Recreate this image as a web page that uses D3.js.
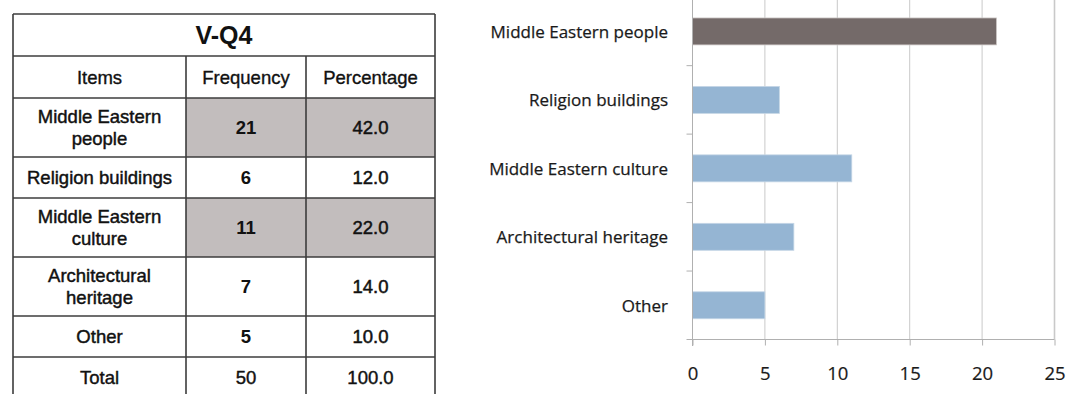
<!DOCTYPE html>
<html>
<head>
<meta charset="utf-8">
<script src="https://cdn.jsdelivr.net/npm/d3@7"></script>
<style>
  html, body { margin: 0; padding: 0; background: #fff; }
  svg { display: block; }
</style>
</head>
<body>
<svg id="chart" width="1068" height="394"></svg>
<script>
// ---- Data ----
const tableTitle = "V-Q4";
const tableHeaders = ["Items", "Frequency", "Percentage"];
const items = ["Middle Eastern people", "Religion buildings", "Middle Eastern culture", "Architectural heritage", "Other"];
const itemLines = [["Middle Eastern", "people"], ["Religion buildings"], ["Middle Eastern", "culture"], ["Architectural", "heritage"], ["Other"]];
const frequency = [21, 6, 11, 7, 5];
const percentage = ["42.0", "12.0", "22.0", "14.0", "10.0"];
const tableHighlighted = [true, false, true, false, false];
const barHighlighted = [true, false, false, false, false];
const totalRow = ["Total", "50", "100.0"];
const xTicks = [0, 5, 10, 15, 20, 25];

// ---- Layout ----
const svg = d3.select("#chart");

// Table
const colEdges = [13, 186, 306, 435];
const rowEdges = [14, 56, 98, 157, 198, 257, 316, 357, 400];
const border = "#3c3c3c";
const tableFont = "'Liberation Sans', Arial, sans-serif";
const tg = svg.append("g");

const bodyRows = items.map((d, i) => ({ i, y0: rowEdges[i + 2], y1: rowEdges[i + 3] }));
bodyRows.filter(r => tableHighlighted[r.i]).forEach(r => {
  tg.append("rect").attr("x", colEdges[1]).attr("y", r.y0)
    .attr("width", colEdges[3] - colEdges[1]).attr("height", r.y1 - r.y0)
    .attr("fill", "#c2bdbd");
});

rowEdges.slice(0, -1).forEach(yy => {
  tg.append("line").attr("x1", colEdges[0]).attr("x2", colEdges[3])
    .attr("y1", yy).attr("y2", yy).attr("stroke", border).attr("stroke-width", 1.6);
});
tg.append("line").attr("x1", colEdges[0]).attr("x2", colEdges[0]).attr("y1", rowEdges[0]).attr("y2", 400).attr("stroke", border).attr("stroke-width", 1.6);
tg.append("line").attr("x1", colEdges[3]).attr("x2", colEdges[3]).attr("y1", rowEdges[0]).attr("y2", 400).attr("stroke", border).attr("stroke-width", 1.6);
[colEdges[1], colEdges[2]].forEach(xx => {
  tg.append("line").attr("x1", xx).attr("x2", xx).attr("y1", rowEdges[1]).attr("y2", 400).attr("stroke", border).attr("stroke-width", 1.6);
});

function cellText(lines, col, y0, y1, opts) {
  const cx = (colEdges[col] + colEdges[col + 1]) / 2;
  const cy = (y0 + y1) / 2;
  const lh = 22;
  const n = lines.length;
  lines.forEach((ln, k) => {
    tg.append("text")
      .attr("x", cx)
      .attr("y", cy + (k - (n - 1) / 2) * lh + opts.size * 0.36)
      .attr("text-anchor", "middle")
      .attr("font-family", tableFont)
      .attr("font-size", opts.size)
      .attr("font-weight", opts.weight || "normal")
      .attr("fill", "#111")
      .attr("stroke", "#111")
      .attr("stroke-width", opts.sw || 0)
      .text(ln);
  });
}

tg.append("text")
  .attr("x", (colEdges[0] + colEdges[3]) / 2)
  .attr("y", (rowEdges[0] + rowEdges[1]) / 2 + 9)
  .attr("text-anchor", "middle")
  .attr("font-family", tableFont)
  .attr("font-size", 25)
  .attr("font-weight", "bold")
  .attr("fill", "#111")
  .text(tableTitle);

tableHeaders.forEach((h, c) => cellText([h], c, rowEdges[1], rowEdges[2], { size: 18.5, sw: 0.35 }));
bodyRows.forEach(r => {
  cellText(itemLines[r.i], 0, r.y0, r.y1, { size: 18.5, sw: 0.45 });
  cellText([String(frequency[r.i])], 1, r.y0, r.y1, { size: 18.5, weight: "bold" });
  cellText([percentage[r.i]], 2, r.y0, r.y1, { size: 18.5, sw: 0.5 });
});
totalRow.forEach((t, c) => cellText([t], c, rowEdges[7], 398, { size: 18.5, sw: 0.4 }));

// ---- Bar chart ----
const x = d3.scaleLinear().domain([0, 25]).range([692.5, 1054.5]);
const y = d3.scaleBand().domain(items).range([-2.8, 339.5]).paddingInner(0.606).paddingOuter(0.303);
const yBounds = d3.scaleBand().domain(items).range([-2.8, 339.5]);
const cg = svg.append("g");
const labelFont = "'Open Sans', 'Noto Sans', sans-serif";

cg.selectAll(".grid").data(xTicks).join("line")
  .attr("x1", d => x(d)).attr("x2", d => x(d))
  .attr("y1", 0).attr("y2", 339.5)
  .attr("stroke", d => d === 0 ? "#b5b5b5" : "#c9c9c9").attr("stroke-width", d => d === 25 ? 1.6 : 1);

cg.selectAll(".bar").data(items).join("rect")
  .attr("x", x(0))
  .attr("y", d => y(d))
  .attr("width", (d, i) => x(frequency[i]) - x(0))
  .attr("height", y.bandwidth())
  .attr("fill", (d, i) => barHighlighted[i] ? "#746a69" : "#95b5d3")
  .attr("stroke", (d, i) => barHighlighted[i] ? "#cfcac8" : "#c5d6e6")
  .attr("stroke-width", 0.8);

const xAxis = d3.axisBottom(x).tickValues(xTicks).tickSize(6).tickPadding(21).tickSizeOuter(0);
const xg = cg.append("g").attr("transform", "translate(0,339.5)").call(xAxis);
xg.select(".domain").attr("stroke", "#b0b0b0").attr("d", `M${x(0) - 6},0H${x(25)}`);
xg.selectAll(".tick line").attr("stroke", "#b0b0b0");
xg.selectAll(".tick text").attr("font-family", labelFont).attr("font-size", 18.5)
  .attr("fill", "#1a1a1a").attr("stroke", "#1a1a1a").attr("stroke-width", 0.2);

const yg = cg.append("g");
yg.append("line").attr("x1", x(0)).attr("x2", x(0)).attr("y1", 0).attr("y2", 346).attr("stroke", "#b0b0b0");
yg.selectAll(".ytick").data(items.slice(1)).join("line")
  .attr("x1", x(0) - 6).attr("x2", x(0))
  .attr("y1", d => yBounds(d)).attr("y2", d => yBounds(d))
  .attr("stroke", "#b0b0b0");

cg.selectAll(".cat").data(items).join("text")
  .attr("x", 668)
  .attr("y", d => y(d) + y.bandwidth() / 2 + 6.3)
  .attr("text-anchor", "end")
  .attr("font-family", labelFont)
  .attr("font-size", 17)
  .attr("fill", "#1a1a1a")
  .attr("stroke", "#1a1a1a")
  .attr("stroke-width", 0.25)
  .text(d => d);
</script>
</body>
</html>
